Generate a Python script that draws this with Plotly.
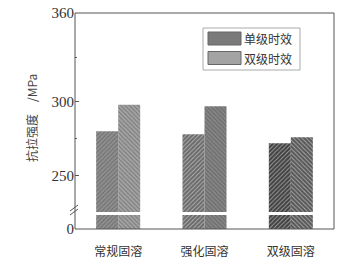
import plotly.graph_objects as go

categories = ["常规固溶", "强化固溶", "双级固溶"]
series_names = ["单级时效", "双级时效"]
single_aging = [280, 278, 272]
double_aging = [298, 297, 276]
single_colors = ["#8f8f8f", "#6a6a6a", "#414141"]
double_colors = ["#a3a3a3", "#858585", "#575757"]
legend_colors = ["#7a7a7a", "#a3a3a3"]
upper_ticks = [250, 300, 360]
upper_minor = [275, 330]

SERIF = "Liberation Serif, DejaVu Serif, serif"
CJK = "Noto Sans CJK SC, Noto Sans CJK JP, sans-serif"

fig = go.Figure()

for vals, cols, shape in [(single_aging, single_colors, "/"), (double_aging, double_colors, "\\")]:
    for ax in ["y", "y2"]:
        fig.add_trace(go.Bar(
            x=categories, y=vals, yaxis=ax, xaxis="x",
            marker=dict(color=cols, line=dict(width=0),
                        pattern=dict(shape=shape, size=3, solidity=0.3,
                                     fgcolor="rgba(0,0,0,0.10)", fillmode="overlay")),
            showlegend=False, hoverinfo="skip",
        ))

H = 216.0
W = 259.0
low_top = 14 / H
up_bot = 17 / H

fig.update_layout(
    width=364, height=263,
    margin=dict(l=75, r=30, t=13, b=34, autoexpand=False),
    paper_bgcolor="white", plot_bgcolor="white",
    barmode="group", bargap=0.49, bargroupgap=0,
    showlegend=False,
    xaxis=dict(anchor="y", showline=False, ticks="", ticklen=0, automargin=False,
               tickfont=dict(family=CJK, size=12, color="#333"),
               ticklabelstandoff=14, showgrid=False),
    yaxis=dict(domain=[0, low_top], range=[0, 20], tickvals=[0], ticktext=["0"],
               ticks="inside", ticklen=3, tickcolor="#555", showgrid=False, automargin=False,
               tickfont=dict(family=SERIF, size=15, color="#333"), showline=False, zeroline=False),
    yaxis2=dict(domain=[up_bot, 1], range=[225.5, 360], tickvals=upper_ticks,
                ticks="inside", ticklen=4, tickcolor="#555", showgrid=False, automargin=False,
                minor=dict(tickvals=upper_minor, ticks="inside", ticklen=2, tickcolor="#555"),
                tickfont=dict(family=SERIF, size=15, color="#333"), showline=False, zeroline=False,
                anchor="x"),
)

line = dict(color="#555", width=1)
# frame
fig.add_shape(type="rect", xref="paper", yref="paper", x0=0, x1=1, y0=0, y1=1, line=line)
# axis break marks
for dy in [0, 4]:
    fig.add_shape(type="line", xref="paper", yref="paper",
                  x0=-5/W, x1=3/W, y0=(14 + dy) / H, y1=(20 + dy) / H,
                  line=dict(color="#555", width=1))

# legend box
fig.add_shape(type="rect", xref="paper", yref="paper",
              x0=(203-75)/W, x1=(300-75)/W, y0=(229-70)/H, y1=(229-28)/H,
              line=dict(color="#aaa", width=1), fillcolor="rgba(255,255,255,0)")
for i, (name, col) in enumerate(zip(series_names, legend_colors)):
    ytop = 32 + i * 19.5
    fig.add_shape(type="rect", xref="paper", yref="paper",
                  x0=(208-75)/W, x1=(241-75)/W, y0=(229-ytop-13)/H, y1=(229-ytop)/H,
                  line=dict(color="#666", width=1), fillcolor=col)
    fig.add_annotation(xref="paper", yref="paper", x=(242-75)/W, y=(229-ytop-6.5)/H,
                       text=name, showarrow=False, xanchor="left", yanchor="middle",
                       font=dict(family=CJK, size=12, color="#333"))

fig.add_annotation(xref="paper", yref="paper", x=(31-75)/W, y=(229-118)/H,
                   text="抗拉强度　/MPa", showarrow=False, textangle=-90,
                   xanchor="center", yanchor="middle",
                   font=dict(family=CJK, size=12, color="#444"))

fig.write_html("out.html", config={"displayModeBar": False},
               post_script="document.body.style.margin='0';document.body.style.overflow='hidden';")
